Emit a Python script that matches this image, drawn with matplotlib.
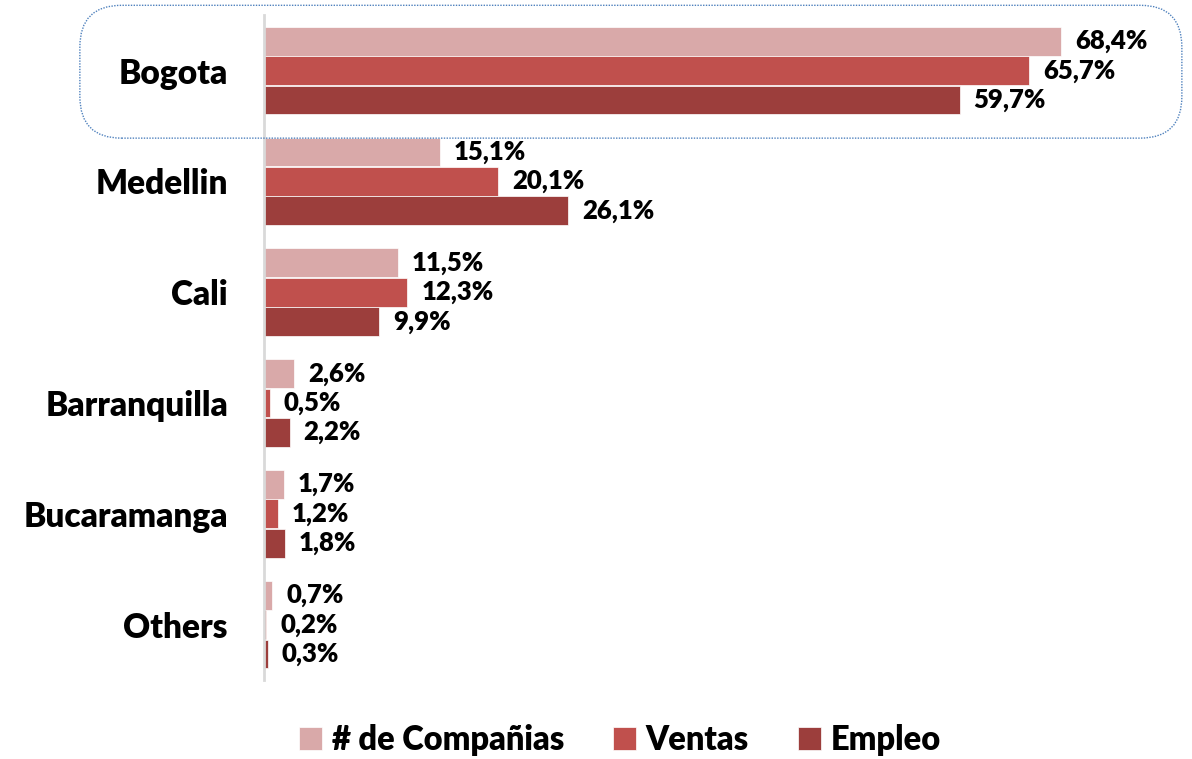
import matplotlib.pyplot as plt
import numpy as np
from matplotlib.patches import FancyBboxPatch

# datos
ciudades = ["Bogota", "Medellin", "Cali", "Barranquilla", "Bucaramanga", "Others"]
companias = [68.4, 15.1, 11.5, 2.6, 1.7, 0.7]
ventas = [65.7, 20.1, 12.3, 0.5, 1.2, 0.2]
empleo = [59.7, 26.1, 9.9, 2.2, 1.8, 0.3]
series = ["# de Compañias", "Ventas", "Empleo"]
colores = ["#D9A9A9", "#C0504D", "#9C3E3C"]

plt.rcParams['font.family'] = ['Lato', 'DejaVu Sans']

fig = plt.figure(figsize=(11.92, 7.59), dpi=100)
ax = fig.add_axes([0.2215, 0.104, 0.733, 0.876])

y = np.arange(len(ciudades))
alto = 0.26
for i, (vals, nombre, color) in enumerate(zip([companias, ventas, empleo], series, colores)):
    pos = y + (i - 1) * 0.265
    ax.barh(pos, vals, height=alto, color=color, edgecolor="white", linewidth=0.5, label=nombre)
    for p, v in zip(pos, vals):
        ax.text(v + 1.2, p, f"{v:.1f}%".replace(".", ","), va="center", ha="left",
                fontsize=18.5, fontweight="heavy")

ax.set_xlim(0, 75)
ax.set_ylim(5.5, -0.5)
ax.set_yticks(y)
ax.set_yticklabels(ciudades, fontsize=24, fontweight="heavy")
ax.tick_params(axis="y", length=0, pad=26)
ax.set_xticks([])
for s in ["top", "right", "bottom"]:
    ax.spines[s].set_visible(False)
ax.spines["left"].set_color("#D9D9D9")
ax.spines["left"].set_linewidth(2)

leg = fig.legend(loc="center", bbox_to_anchor=(0.52, 0.025), ncol=3, frameon=False,
                 prop={"size": 23.5, "weight": "heavy"}, handlelength=0.7, handleheight=0.7,
                 handletextpad=0.3, columnspacing=1.5)

# recuadro redondeado alrededor de Bogota
caja = FancyBboxPatch((0.067, 0.818), 0.9245, 0.175, boxstyle="round,pad=0,rounding_size=0.035",
                      transform=fig.transFigure, fill=False, edgecolor="#4F81BD",
                      linestyle=(0, (1, 1)), linewidth=1, mutation_aspect=1192 / 759)
fig.patches.append(caja)

fig.savefig("out.png", dpi=100)
